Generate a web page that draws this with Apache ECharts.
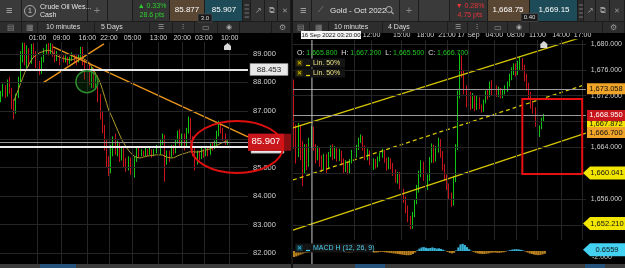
<!DOCTYPE html>
<html><head><meta charset="utf-8">
<script src="https://cdn.jsdelivr.net/npm/echarts@6/dist/echarts.min.js"></script>
<style>html,body{margin:0;padding:0;background:#000;overflow:hidden}#c{width:625px;height:268px}</style>
</head><body><div id="c"></div><script>
// ---------------- DATA ----------------
// Crude Oil WTI Cash, 10 min candles (aggregated), [open, close, low, high]
const oilCandles = [
[87.45,87.60,87.30,87.70],[87.60,87.80,87.50,87.95],[87.80,87.55,87.45,87.90],[87.55,88.00,87.50,88.10],
[88.00,87.70,87.60,88.20],[87.70,87.30,87.05,87.80],[87.30,86.95,86.70,87.40],[86.95,87.50,86.90,87.60],
[87.50,88.10,87.45,88.20],[88.10,88.90,88.00,89.10],[88.90,89.30,88.70,89.40],[89.30,88.80,88.60,89.40],
[88.80,89.10,88.50,89.30],[89.10,88.70,88.55,89.20],[88.70,89.20,88.65,89.35],[89.20,89.00,88.85,89.38],
[89.00,88.70,88.50,89.10],[88.70,88.60,88.40,88.85],[88.60,88.40,88.25,88.75],[88.40,88.80,88.30,88.90],
[88.80,89.10,88.70,89.20],[89.10,89.25,89.00,89.35],[89.25,89.10,88.95,89.38],[89.10,89.30,89.00,89.38],
[89.30,89.05,88.90,89.35],[89.05,88.85,88.70,89.15],[88.85,88.95,88.75,89.10],[88.95,88.75,88.60,89.00],
[88.75,88.90,88.70,89.00],[88.90,88.80,88.70,88.95],[88.80,88.85,88.70,88.95],[88.85,88.70,88.60,88.90],
[88.70,88.80,88.65,88.90],[88.80,88.95,88.75,89.05],[88.95,88.85,88.70,89.00],[88.85,88.75,88.60,88.95],
[88.75,88.90,88.70,89.00],[88.90,89.15,88.85,89.25],[89.15,88.70,88.60,89.25],[88.70,88.30,88.10,88.80],
[88.30,88.60,87.95,88.70],[88.60,88.10,87.90,88.70],[88.10,88.40,87.80,88.55],[88.40,87.90,87.80,88.50],
[87.90,88.20,87.75,88.35],[88.20,87.50,87.30,88.25],[87.50,86.90,86.70,87.60],[86.90,86.40,86.20,87.00],
[86.40,85.80,85.60,86.50],[85.80,85.20,85.00,86.00],[85.20,84.85,84.70,85.40],[84.85,85.60,84.80,85.80],
[85.60,86.00,85.40,86.10],[86.00,85.60,85.45,86.20],[85.60,85.80,85.40,85.95],[85.80,85.40,85.20,85.90],
[85.40,85.60,85.25,85.75],[85.60,85.20,85.00,85.70],[85.20,85.00,84.85,85.35],[85.00,85.30,84.90,85.40],
[85.30,84.90,84.75,85.35],[84.90,84.70,84.57,85.00],[84.70,85.30,84.65,85.40],[85.30,85.60,85.20,85.70],
[85.60,85.45,85.35,85.70],[85.45,85.55,85.40,85.65],[85.55,85.45,85.40,85.60],[85.45,85.60,85.40,85.70],
[85.60,85.50,85.40,85.65],[85.50,85.60,85.45,85.70],[85.60,85.45,85.35,85.65],[85.45,85.55,85.40,85.65],
[85.55,85.70,85.50,85.80],[85.70,85.50,85.40,85.75],[85.50,85.90,85.45,86.00],[85.90,86.10,85.80,86.20],
[86.10,85.30,84.50,86.15],[85.30,85.50,85.10,85.60],[85.50,85.40,85.20,85.60],[85.40,85.70,85.35,85.80],
[85.70,85.55,85.45,85.80],[85.55,85.90,85.50,86.00],[85.90,86.20,85.85,86.30],[86.20,85.90,85.70,86.35],
[85.90,86.10,85.70,86.20],[86.10,85.80,85.60,86.20],[85.80,86.30,85.75,86.40],[86.30,86.70,86.20,86.80],
[86.70,86.00,85.90,86.75],[86.00,85.60,85.40,86.10],[85.60,85.20,84.90,85.70],[85.20,85.50,85.10,85.60],
[85.50,85.35,85.25,85.60],[85.35,85.60,85.30,85.70],[85.60,85.45,85.35,85.65],[85.45,85.65,85.40,85.75],
[85.65,85.50,85.40,85.70],[85.50,85.75,85.45,85.85],[85.75,85.70,85.60,85.90],[85.70,85.85,85.65,85.95],
[85.85,86.20,85.80,86.30],[86.20,86.55,86.10,86.65],[86.55,86.30,86.20,86.60],[86.30,86.10,85.95,86.40],
[86.10,85.85,85.80,86.20],[85.85,85.91,85.80,85.95]
];
const oilMA = [null,null,null,null,null,null,
87.35,87.55,87.75,87.95,88.15,88.35,88.5,88.65,88.78,88.88,
88.95,89.0,89.05,89.07,89.1,89.12,89.13,89.12,89.05,88.98,
88.93,88.9,88.86,88.84,88.82,88.8,88.79,88.8,88.82,88.84,
88.86,88.86,88.84,88.8,88.75,88.68,88.55,88.42,88.28,88.15,
87.98,87.75,87.5,87.25,87.0,86.85,86.68,86.5,86.32,86.15,
85.98,85.85,85.72,85.62,85.52,85.45,85.39,85.36,85.34,85.35,
85.37,85.39,85.41,85.42,85.43,85.44,85.45,85.45,85.45,85.44,
85.4,85.37,85.35,85.34,85.35,85.38,85.42,85.45,85.48,85.5,
85.52,85.55,85.56,85.56,85.55,85.55,85.56,85.58,85.6,85.62,
85.64,85.66,85.7,85.74,85.78,85.82,85.86,85.89,85.92,85.94];
const oilSlots = 115;
const oilTimeTicks = [[17,'01:00'],[28,'09:00'],[40,'16:00'],[50,'22:00'],[61,'05:00'],[73,'13:00'],[84,'20:00'],[94,'03:00'],[106,'10:00']];
const oilPriceTicks = [82,83,84,85,86,87,88,89];
const oilLevelHigh = 88.453, oilLast = 85.907, oilLevelLow = 85.721;
const oilTrendA = [[24.1,89.25],[114.5,86.08]];
const oilTrendB = [[19.4,87.98],[47.7,89.35]];
const oilEllipse = [109.4, 85.73];
const oilCircle = [39.8, 88.02];

// Gold Oct 2022, [open, close, low, high]
const goldCandles = [
[1673.5,1665.0,1663.8,1674.5],[1665.0,1663.5,1661.5,1667.5],[1663.5,1666.5,1662.5,1667.8],[1666.5,1664.0,1662.0,1667.5],
[1664.0,1660.5,1658.0,1665.0],[1660.5,1663.5,1660.0,1664.5],[1663.5,1661.5,1660.5,1664.5],[1661.5,1664.5,1661.0,1665.5],
[1664.5,1666.5,1664.0,1667.3],[1666.5,1664.0,1663.5,1667.2],[1664.0,1662.5,1661.5,1664.5],[1662.5,1663.5,1662.0,1664.2],
[1663.5,1662.0,1661.0,1664.0],[1662.0,1661.2,1660.2,1662.8],[1661.2,1662.5,1660.5,1663.0],[1662.5,1661.0,1660.0,1663.0],
[1661.0,1662.8,1660.8,1663.3],[1662.8,1663.8,1662.5,1664.3],[1663.8,1662.6,1662.0,1664.5],[1662.6,1663.6,1662.2,1664.2],
[1663.6,1662.4,1661.8,1664.0],[1662.4,1663.2,1661.9,1663.8],[1663.2,1661.8,1661.2,1663.5],[1661.8,1660.6,1660.0,1662.3],
[1660.6,1661.6,1660.2,1662.0],[1661.6,1660.3,1659.8,1661.8],[1660.3,1661.8,1660.0,1662.2],[1661.8,1663.2,1661.5,1663.6],
[1663.2,1662.6,1662.2,1663.8],[1662.6,1664.0,1662.4,1664.4],[1664.0,1665.0,1663.6,1665.5],[1665.0,1665.6,1664.7,1666.0],
[1665.6,1664.0,1663.5,1665.8],[1664.0,1662.5,1662.0,1664.3],[1662.5,1663.3,1662.0,1663.8],[1663.3,1661.8,1661.2,1663.5],
[1661.8,1660.8,1660.2,1662.2],[1660.8,1661.8,1660.5,1662.3],[1661.8,1661.2,1660.7,1662.2],[1661.2,1662.2,1660.9,1662.6],
[1662.2,1662.8,1661.8,1663.2],[1662.8,1663.4,1662.4,1663.8],[1663.4,1662.0,1661.6,1663.6],[1662.0,1661.0,1660.4,1662.4],
[1661.0,1662.0,1660.6,1662.5],[1662.0,1661.2,1660.6,1662.3],[1661.2,1660.2,1659.6,1661.6],[1660.2,1659.0,1658.5,1660.6],
[1659.0,1659.8,1658.4,1660.2],[1659.8,1658.2,1657.5,1660.2],[1658.2,1657.0,1656.4,1658.6],[1657.0,1656.0,1655.4,1657.6],
[1656.0,1654.5,1653.8,1656.4],[1654.5,1653.0,1652.4,1655.0],[1653.0,1651.8,1651.3,1653.4],[1651.8,1653.5,1651.4,1654.0],
[1653.5,1655.5,1653.2,1656.0],[1655.5,1657.5,1655.2,1658.2],[1657.5,1659.8,1657.0,1660.4],[1659.8,1661.5,1659.4,1662.0],
[1661.5,1659.5,1658.8,1661.8],[1659.5,1657.8,1657.2,1660.0],[1657.8,1659.2,1657.4,1659.8],[1659.2,1662.0,1658.8,1662.5],
[1662.0,1664.0,1661.6,1664.6],[1664.0,1662.2,1661.6,1664.4],[1662.2,1663.6,1661.8,1664.2],[1663.6,1665.0,1663.2,1665.5],
[1665.0,1663.0,1662.4,1665.3],[1663.0,1661.0,1660.4,1663.4],[1661.0,1659.4,1658.8,1661.4],[1659.4,1658.0,1657.4,1659.8],
[1658.0,1656.6,1656.0,1658.4],[1656.6,1655.4,1654.8,1657.0],[1655.4,1659.0,1655.0,1659.6],[1659.0,1664.0,1658.6,1664.5],
[1664.0,1672.0,1663.6,1672.8],[1672.0,1677.5,1671.6,1678.5],[1677.5,1675.5,1674.8,1678.2],[1675.5,1673.0,1672.2,1676.0],
[1673.0,1671.0,1670.2,1673.6],[1671.0,1672.2,1670.6,1672.8],[1672.2,1670.6,1669.8,1672.6],[1670.6,1671.8,1670.0,1672.4],
[1671.8,1670.2,1669.6,1672.0],[1670.2,1671.4,1669.8,1672.0],[1671.4,1670.4,1669.9,1671.8],[1670.4,1669.8,1669.4,1670.6],
[1669.8,1671.0,1669.5,1671.4],[1671.0,1672.4,1670.8,1672.8],[1672.4,1672.0,1671.4,1673.0],[1672.0,1673.6,1671.8,1674.2],
[1673.6,1672.6,1672.0,1674.4],[1672.6,1673.2,1672.0,1673.6],[1673.2,1672.2,1671.8,1673.6],[1672.2,1672.8,1671.8,1673.4],
[1672.8,1672.0,1671.6,1673.2],[1672.0,1672.6,1671.6,1673.0],[1672.6,1673.0,1672.2,1673.6],[1673.0,1673.8,1672.6,1674.2],
[1673.8,1674.8,1673.4,1675.4],[1674.8,1675.8,1674.4,1676.4],[1675.8,1676.4,1675.2,1677.0],[1676.4,1675.6,1675.0,1677.0],
[1675.6,1676.6,1675.2,1677.4],[1676.6,1677.6,1676.0,1678.0],[1677.6,1676.4,1675.8,1677.8],[1676.4,1675.0,1674.2,1676.8],
[1675.0,1673.6,1672.8,1675.4],[1673.6,1672.2,1671.4,1674.0],[1672.2,1670.8,1670.0,1672.6],[1670.8,1669.8,1669.2,1671.2],
[1669.8,1668.0,1667.2,1670.2],[1668.0,1666.0,1665.5,1668.4],[1666.0,1667.0,1665.6,1667.4],[1667.0,1668.2,1666.8,1668.6],
[1668.2,1668.95,1668.0,1669.2]
];
const goldMACD = [
-2.0,-1.8,-1.5,-1.2,
-0.9,-0.7,-0.6,-0.5,-0.4,-0.3,-0.3,-0.2,-0.2,
-0.1,0.1,0.2,0.2,0.1,0.1,-0.1,-0.2,-0.2,-0.3,-0.3,-0.4,
-0.5,-0.5,-0.4,-0.3,-0.1,0.1,0.2,
0.2,0.1,-0.1,-0.3,-0.4,-0.5,-0.5,-0.4,-0.3,
-0.3,-0.4,-0.5,-0.6,-0.7,-0.8,-0.9,-1.0,-1.1,-1.2,
-1.3,-1.4,-1.4,-1.3,-1.0,
-0.5,0.2,0.8,1.2,
1.3,1.1,0.9,1.0,1.2,1.0,0.8,
0.9,0.7,0.4,0.1,-0.3,-0.6,
-0.8,-0.6,0.2,
1.2,2.2,2.4,2.0,1.3,
0.6,0.1,-0.3,-0.6,-0.8,
-0.9,-1.0,-1.0,-0.9,-0.8,-0.6,-0.5,-0.5,-0.6,-0.6,
-0.5,-0.4,-0.2,0.1,0.3,
0.5,0.6,0.6,0.5,0.4,0.2,
-0.2,-0.5,-0.8,-1.0,-1.2,-1.3,-1.4,-1.3,-1.1,-0.9];
const goldSlots = 136;
const goldTimeTicks = [[28,'09:00'],[36,'12:00'],[50,'15:00'],[61,'18:00'],[71,'21:00'],[81,'17 Sep'],[93,'04:00'],[103,'08:00'],[113,'11:00'],[124,'14:00'],[134,'17:00']];
const goldPriceTicks = [1652,1656,1660,1664,1668,1672,1676,1680];
const goldMacdTicks = [-2];
const goldLevelA = 1673.058, goldLevelB = 1668.95;
const goldTagPrices = [['1,673.058',1673.058,'#f0a428','#111'],['1,667.872',1667.6,'#f2e200','#111'],['1,668.950',1668.95,'#c8161c','#fff'],['1,666.700',1666.3,'#f0a428','#111']];
const goldArrowTags = [['1,660.041',1660.041,'#f2e600'],['1,652.210',1652.21,'#f2e600']];
const goldMacdTag = ['0.6559', 0.4];
const goldChannelUpper = [[-0.5,1667.0],[135.5,1681.24]];
const goldChannelMid = [[-0.5,1658.95],[135.5,1673.74]];
const goldChannelLower = [[-0.5,1651.2],[135.5,1666.22]];
const goldBox = [[106,1671.49],[133.8,1659.88]];
const goldCrosshair = 8.3;
const goldOHLC = ['1,665.800','1,667.200','1,665.500','1,666.700'];

// ---------------- CHART ----------------
const FONT = '"Liberation Sans", Arial, sans-serif';
const UP = '#14c414', DN = '#c8141c';
const chart = echarts.init(document.getElementById('c'));
const mapOf = a => { const m = {}; a.forEach(([i,t]) => m[i] = t); return m; };
const oilTM = mapOf(oilTimeTicks), goldTM = mapOf(goldTimeTicks);
const idx = n => Array.from({length:n}, (_, i) => i);
const fmt = v => v.toLocaleString('en-US', {minimumFractionDigits:3, maximumFractionDigits:3});

function gridLines(xi, yi, xs, ys) {
  return {type:'line', xAxisIndex:xi, yAxisIndex:yi, data:[], silent:true, z:1,
    markLine:{silent:true, symbol:['none','none'], label:{show:false}, animation:false,
      lineStyle:{color:'#262626', width:1, type:'solid'},
      data:[...xs.map(v => ({xAxis:v})), ...ys.map(v => ({yAxis:v}))]}};
}
function levels(xi, yi, arr) {
  return {type:'line', xAxisIndex:xi, yAxisIndex:yi, data:[], silent:true, z:2,
    markLine:{silent:true, symbol:['none','none'], label:{show:false}, animation:false,
      data: arr.map(([v, c, w]) => ({yAxis:v, lineStyle:{color:c, width:w, type:'solid'}}))}};
}
function seg(xi, yi, pts, color, w, type) {
  return {type:'line', xAxisIndex:xi, yAxisIndex:yi, data:pts, symbol:'none', silent:true, z:4,
    lineStyle:{color, width:w, type:type || 'solid'}, animation:false};
}
const catAxis = (grid, n, tm, show, margin) => ({type:'category', gridIndex:grid, data:idx(n), position:'top',
  axisLine:{show:false}, axisTick:{show:false}, splitLine:{show:false},
  axisLabel:{show:show, interval:(i) => tm[i] !== undefined, formatter:(v, i) => tm[i] || '',
    color:'#d8d8d8', fontSize:7, fontFamily:FONT, margin:margin}});
const valX = (grid, n) => ({type:'value', gridIndex:grid, min:-0.5, max:n - 0.5, show:false});
const yAx = (grid, min, max, ticks, f, size) => ({type:'value', gridIndex:grid, position:'right', min, max,
  axisLine:{show:false}, axisTick:{show:false}, splitLine:{show:false},
  axisLabel:{customValues:ticks, formatter:f, color:'#d0d0d0', fontSize:size, fontFamily:FONT, margin:5}});

chart.setOption({
  animation:false,
  backgroundColor:'#000',
  grid:[
    {left:0, top:42, width:248, height:222},
    {left:293, top:40, width:294, height:200},
    {left:293, top:240, width:294, height:24}
  ],
  xAxis:[catAxis(0, oilSlots, oilTM, true, 0), valX(0, oilSlots),
         catAxis(1, goldSlots, goldTM, true, 1), valX(1, goldSlots),
         catAxis(2, goldSlots, {}, false, 0), valX(2, goldSlots)],
  yAxis:[yAx(0, 81.61, 89.42, oilPriceTicks, v => v.toFixed(3), 7.5),
         yAx(1, 1649.66, 1680.62, goldPriceTicks, fmt, 7),
         yAx(2, -4.33, 3.67, goldMacdTicks, v => v.toFixed(3), 7)],
  series:[
    gridLines(1, 0, oilTimeTicks.map(t => t[0]), oilPriceTicks),
    gridLines(3, 1, goldTimeTicks.map(t => t[0]), goldPriceTicks),
    levels(1, 0, [[oilLevelHigh,'#e6e6e6',2],[oilLast,'#9a9a9a',1],[oilLevelLow,'#ececec',2]]),
    levels(3, 1, [[goldLevelA,'#9c9c9c',1],[goldLevelB,'#9c9c9c',1]]),
    {type:'candlestick', xAxisIndex:0, yAxisIndex:0, data:oilCandles, barWidth:1.2, z:3,
      itemStyle:{color:UP, color0:DN, borderColor:UP, borderColor0:DN, borderWidth:1}},
    {type:'line', xAxisIndex:0, yAxisIndex:0, data:oilMA, symbol:'none', z:4, connectNulls:false,
      lineStyle:{color:'#b09c2a', width:1}},
    seg(1, 0, oilTrendA, '#e8951c', 1.5),
    seg(1, 0, oilTrendB, '#e8951c', 1.5),
    {type:'candlestick', xAxisIndex:2, yAxisIndex:1, data:goldCandles, barWidth:1.2, z:3,
      itemStyle:{color:UP, color0:DN, borderColor:UP, borderColor0:DN, borderWidth:1}},
    seg(3, 1, goldChannelUpper, '#d6c600', 1.3),
    seg(3, 1, goldChannelMid, '#d6c600', 1.3, [4,3]),
    seg(3, 1, goldChannelLower, '#d6c600', 1.3),
    {type:'bar', xAxisIndex:4, yAxisIndex:2, data:goldMACD, barCategoryGap:'0%', z:3,
      itemStyle:{color:(p) => p.value >= 0 ? '#38b2d6' : '#b8801e'}}
  ]
});

// ---------------- OVERLAYS / CHROME ----------------
const G = [];
const px = (xi, yi, p) => chart.convertToPixel({xAxisIndex:xi, yAxisIndex:yi}, p);
function R(x, y, w, h, fill, z, stroke) { G.push({type:'rect', shape:{x, y, width:w, height:h},
  style:stroke ? {fill, stroke, lineWidth:0.6} : {fill}, z:z || 100, silent:true}); }
function T(x, y, text, o, z) { G.push({type:'text', x, y, z:z || 102, silent:true,
  style:Object.assign({text, fill:'#dcdcdc', fontSize:7, fontFamily:FONT, verticalAlign:'middle', align:'left'}, o || {})}); }
function L(x1, y1, x2, y2, color, w, z) { G.push({type:'line', shape:{x1, y1, x2, y2}, style:{stroke:color, lineWidth:w}, z:z || 101, silent:true}); }

// headers
function header(x0, w, cells1, cells2) {
  R(x0, 0, w, 21, '#1c1c1c');
  cells1.forEach(([a, b, c]) => R(x0 + a, 0, b - a - 1, 21, c));
  R(x0, 21, w, 12, '#1c1c1c');
  cells2.forEach(([a, b]) => R(x0 + a, 22, b - a - 1, 11, '#2d2d2d'));
}
header(0, 291,
  [[0,22,'#3a3a3a'],[22,88,'#3a3a3a'],[88,108,'#3a3a3a'],[108,133,'#3a3a3a'],[133,170,'#333333'],[170,205,'#5a4733'],[205,243,'#1e4b58'],[243,251,'#2a2a2a'],[251,265,'#333'],[265,278,'#333'],[278,291,'#333']],
  [[0,22],[22,38],[38,95],[95,150],[150,173],[173,195],[195,218],[218,240],[240,272],[272,291]]);
header(293, 332,
  [[0,19,'#3a3a3a'],[19,107,'#3a3a3a'],[107,126,'#3a3a3a'],[126,157,'#3a3a3a'],[157,195,'#333333'],[195,237,'#5a4733'],[237,285,'#1e4b58'],[285,291,'#2a2a2a'],[291,303,'#333'],[303,317,'#333'],[317,332,'#333']],
  [[0,17],[17,36],[36,90],[90,155],[155,175],[175,195],[195,215],[215,237],[237,310],[310,332]]);
R(291, 0, 2, 268, '#151515');
// left header text
T(6, 11, '≡', {fontSize:11, fill:'#bbb'});
G.push({type:'circle', shape:{cx:30, cy:11, r:5.5}, style:{stroke:'#aaa', fill:'none', lineWidth:1}, z:101, silent:true});
T(30, 11.5, '1', {align:'center', fontSize:7, fill:'#ccc'});
T(40, 7, 'Crude Oil Wes...', {fontSize:7, fill:'#e4e4e4'});
T(40, 15.5, 'Cash', {fontSize:7, fill:'#e4e4e4'});
T(97, 11, '+', {align:'center', fontSize:11, fill:'#888'});
T(152, 6.5, '▲ 0.33%', {align:'center', fontSize:7, fill:'#2ccf2c'});
T(152, 15.5, '28.6 pts', {align:'center', fontSize:7, fill:'#2ccf2c'});
T(187, 10, '85.877', {align:'center', fontSize:8, fill:'#fff'});
T(224, 10, '85.907', {align:'center', fontSize:8, fill:'#fff'});
R(198, 14, 14, 8, '#1a1a1a', 103, '#555');
T(205, 18, '3.0', {align:'center', fontSize:6, fill:'#ddd'}, 104);
[4,8,12,16].forEach(y => L(244.5, y + 1, 249, y + 1, '#777', 1));
T(258, 11, '↗', {align:'center', fontSize:8, fill:'#999'});
T(272, 11, '⧉', {align:'center', fontSize:8, fill:'#999'});
T(285, 11, '✕', {align:'center', fontSize:7, fill:'#999'});
T(11, 27.5, '▤', {align:'center', fontSize:8, fill:'#888'});
T(30, 27.5, '▦', {align:'center', fontSize:8, fill:'#888'});
T(46, 27.5, '10 minutes', {fontSize:7, fill:'#ddd'});
T(101, 27.5, '5 Days', {fontSize:7, fill:'#ddd'});
T(161, 27.5, '☰', {align:'center', fontSize:7, fill:'#999'});
T(183, 27.5, '⫶', {align:'center', fontSize:8, fill:'#999'});
T(206, 27.5, '▭', {align:'center', fontSize:8, fill:'#999'});
T(229, 27.5, '◉', {align:'center', fontSize:7, fill:'#aaa'});
T(282, 27.5, '⚙', {align:'center', fontSize:8, fill:'#999'});
// right header text
T(300, 11, '≡', {fontSize:11, fill:'#bbb'});
T(321, 10, '⟋', {align:'center', fontSize:8, fill:'#999'});
T(330, 10.5, 'Gold - Oct 2022', {fontSize:8, fill:'#e4e4e4'});
G.push({type:'circle', shape:{cx:389, cy:9.5, r:3}, style:{stroke:'#aaa', fill:'none', lineWidth:1}, z:101, silent:true});
L(391, 11.5, 393.5, 14, '#aaa', 1.2);
T(409, 11, '+', {align:'center', fontSize:11, fill:'#888'});
T(470, 6.5, '▼ 0.28%', {align:'center', fontSize:7, fill:'#e8343a'});
T(470, 15.5, '4.75 pts', {align:'center', fontSize:7, fill:'#e8343a'});
T(508, 10, '1,668.75', {align:'center', fontSize:8, fill:'#fff'});
T(554, 10, '1,669.15', {align:'center', fontSize:8, fill:'#fff'});
R(521, 13.5, 17, 8, '#1a1a1a', 103, '#555');
T(529.5, 17.5, '0.40', {align:'center', fontSize:6, fill:'#ddd'}, 104);
[4,8,12,16].forEach(y => L(579, y + 1, 583, y + 1, '#777', 1));
T(590, 11, '↗', {align:'center', fontSize:8, fill:'#999'});
T(603, 11, '⧉', {align:'center', fontSize:8, fill:'#999'});
T(617, 11, '✕', {align:'center', fontSize:7, fill:'#999'});
T(301, 27.5, '▤', {align:'center', fontSize:8, fill:'#888'});
T(319, 27.5, '▦', {align:'center', fontSize:8, fill:'#888'});
T(334, 27.5, '10 minutes', {fontSize:7, fill:'#ddd'});
T(388, 27.5, '4 Days', {fontSize:7, fill:'#ddd'});
T(458, 27.5, '☰', {align:'center', fontSize:7, fill:'#999'});
T(477, 27.5, '⫶', {align:'center', fontSize:8, fill:'#999'});
T(498, 27.5, '▭', {align:'center', fontSize:8, fill:'#999'});
T(519, 27.5, '◉', {align:'center', fontSize:7, fill:'#aaa'});
T(613, 27.5, '⚙', {align:'center', fontSize:8, fill:'#999'});

// bottom strips
R(0, 264, 291, 4, '#3c3c3c'); R(40, 264, 36, 4, '#24527a');
R(293, 264, 332, 4, '#3c3c3c'); R(355, 264, 30, 4, '#24527a'); R(585, 264, 20, 4, '#24527a');

// oil annotations
const oc = px(1, 0, oilCircle);
G.push({type:'circle', shape:{cx:oc[0], cy:oc[1], r:11}, style:{stroke:'#2e8c2e', fill:'rgba(20,90,20,0.25)', lineWidth:1.5}, z:99, silent:true});
const yHigh = px(1, 0, [0, oilLevelHigh])[1];
R(250, yHigh - 6, 38, 12, '#e8e8e8', 100, '#888');
T(269, yHigh, oilLevelHigh.toFixed(3), {align:'center', fontSize:8, fill:'#1a1a1a'}, 102);
const yLow = px(1, 0, [0, oilLevelLow])[1];
R(251, yLow - 3, 33, 9, '#e8e8e8', 100, '#888');
T(267.5, yLow + 2, oilLevelLow.toFixed(3), {align:'center', fontSize:7.5, fill:'#1a1a1a'}, 102);
const yLast = px(1, 0, [0, oilLast])[1];
R(248, yLast - 8, 43, 17, '#8a0f12', 104);
R(248, yLast - 8, 36, 17, '#c8161c', 105);
T(266, yLast, oilLast.toFixed(3), {align:'center', fontSize:9.5, fill:'#fff'}, 106);
const oe = px(1, 0, oilEllipse);
G.push({type:'ellipse', shape:{cx:oe[0], cy:oe[1], rx:46, ry:26}, style:{stroke:'#e01010', fill:'none', lineWidth:2}, z:110, silent:true});
const lastOil = px(0, 0, [oilCandles.length - 1, 0])[0];
G.push({type:'polygon', shape:{points:[[lastOil - 3.5, 50],[lastOil - 3.5, 46],[lastOil, 43],[lastOil + 3.5, 46],[lastOil + 3.5, 50]]}, style:{fill:'#d8d8d8'}, z:103, silent:true});

// gold annotations
const cx = px(3, 1, [goldCrosshair, 1660])[0];
L(cx, 40, cx, 264, '#c8c8c8', 1, 99);
R(301, 31, 60, 8, '#f4f4f4', 103);
T(331, 35.2, '16 Sep 2022 03:20:00', {align:'center', fontSize:6, fill:'#111'}, 104);
const lastGold = px(2, 1, [goldCandles.length - 1, 0])[0];
G.push({type:'polygon', shape:{points:[[lastGold - 3.5, 48],[lastGold - 3.5, 44],[lastGold, 41],[lastGold + 3.5, 44],[lastGold + 3.5, 48]]}, style:{fill:'#d8d8d8'}, z:103, silent:true});
T(297, 53, '{k|O:} {v|' + goldOHLC[0] + '}  {k|H:} {v|' + goldOHLC[1] + '}  {k|L:} {v|' + goldOHLC[2] + '}  {k|C:} {v|' + goldOHLC[3] + '}',
  {rich:{k:{fill:'#e0e0e0', fontSize:7, fontFamily:FONT}, v:{fill:'#22c422', fontSize:7, fontFamily:FONT}}});
[63, 73].forEach(y => {
  R(295, y - 4.5, 50, 9, '#141414', 101);
  R(296.5, y - 3, 6, 6, '#3a3500', 102);
  T(299.5, y, '✕', {align:'center', fontSize:6, fill:'#e8d800'}, 103);
  L(306, y + 2.5, 310, y + 2.5, '#e8d800', 1.2, 103);
  T(313, y, 'Lin. 50%', {fontSize:7, fill:'#e8e080'}, 103);
});
R(295, 243.5, 78, 9, '#141414', 101);
R(296.5, 245, 6, 6, '#0f3a48', 102);
T(299.5, 248, '✕', {align:'center', fontSize:6, fill:'#3fd0f0'}, 103);
L(306, 250.5, 310, 250.5, '#3fd0f0', 1.2, 103);
T(313, 248, 'MACD H (12, 26, 9)', {fontSize:7, fill:'#4ccfee'}, 103);
const b1 = px(3, 1, goldBox[0]), b2 = px(3, 1, goldBox[1]);
G.push({type:'rect', shape:{x:b1[0], y:b1[1], width:b2[0] - b1[0], height:b2[1] - b1[1]}, style:{stroke:'#e81010', fill:'none', lineWidth:2}, z:110, silent:true});
goldTagPrices.forEach(([t, v, bg, fg], k) => {
  const y = px(3, 1, [0, v])[1];
  R(587, y - 5.5, 38, 11, bg, 104 + 2 * k);
  T(606, y, t, {align:'center', fontSize:7.5, fill:fg}, 105 + 2 * k);
});
goldArrowTags.forEach(([t, v, bg]) => {
  const y = px(3, 1, [0, v])[1];
  G.push({type:'polygon', shape:{points:[[583, y],[590, y - 6.5],[625, y - 6.5],[625, y + 6.5],[590, y + 6.5]]}, style:{fill:bg}, z:104, silent:true});
  T(607, y, t, {align:'center', fontSize:7.5, fill:'#111'}, 105);
});
{
  const y = px(5, 2, [0, goldMacdTag[1]])[1];
  G.push({type:'polygon', shape:{points:[[583, y],[590, y - 6.5],[625, y - 6.5],[625, y + 6.5],[590, y + 6.5]]}, style:{fill:'#44d2f2'}, z:104, silent:true});
  T(607, y, goldMacdTag[0], {align:'center', fontSize:7.5, fill:'#111'}, 105);
}

chart.setOption({graphic:{elements:G}});
</script></body></html>
